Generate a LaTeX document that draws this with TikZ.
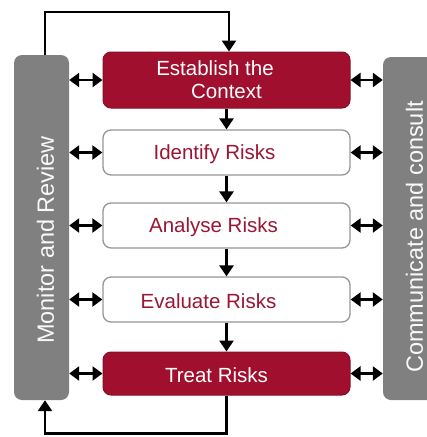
\documentclass[tikz,border=0pt]{standalone}
\usepackage{fontspec}
\setmainfont{Liberation Sans}
\usetikzlibrary{arrows.meta}

\definecolor{riskred}{RGB}{160,16,46}
\definecolor{risktext}{RGB}{155,22,52}
\definecolor{bargray}{RGB}{128,128,128}
\definecolor{boxline}{RGB}{150,150,150}

\begin{document}
\begin{tikzpicture}[x=1pt,y=-1pt,
  bar/.style={fill=bargray, rounded corners=8pt, inner sep=0pt},
  redbox/.style={fill=riskred, draw=riskred!85!black, line width=1pt, rounded corners=8pt,
                 minimum width=247pt, inner sep=0pt},
  whitebox/.style={fill=white, draw=boxline, line width=1.3pt, rounded corners=8pt,
                   minimum width=247pt, inner sep=0pt},
  boxtext/.style={font=\fontsize{20.5}{23}\selectfont, align=center, inner sep=0pt},
  bartext/.style={font=\fontsize{23.5}{27}\selectfont, text=white!95!gray, rotate=90, inner sep=0pt},
  flow/.style={line width=2.6pt, -{Triangle[length=11pt,width=14pt]}},
  both/.style={line width=2.4pt, {Triangle[length=10pt,width=14pt]}-{Triangle[length=10pt,width=14pt]}}]
\path[use as bounding box, clip] (0,0) rectangle (427,437);

% side bars
\node[bar, minimum width=55pt, minimum height=345pt] (mon) at (41.5,227.5) {};
\node[bar, minimum width=57pt, minimum height=343pt] (com) at (411.5,228.5) {};
\node[bartext] (montxt) at ([shift={(4,12.5)}]mon.center) {Monitor and Review};
\node[bartext] (comtxt) at (414.5,237) {Communicate and consult};

% process steps
\node[redbox, minimum height=56pt] (est) at (226.5,80) {};
\node[whitebox, minimum height=45pt] (iden) at (226.5,152.5) {};
\node[whitebox, minimum height=45pt] (anal) at (226.5,225.5) {};
\node[whitebox, minimum height=45pt] (eval) at (226.5,299.5) {};
\node[redbox, minimum height=43pt] (treat) at (226.5,373.5) {};

\node[boxtext, text=white] (esttxt) at ([shift={(-11.5,0)}]est.center) {Establish the\\\hspace*{23pt}Context};
\node[boxtext, text=risktext] (identxt) at ([shift={(-12,2)}]iden.center) {Identify Risks};
\node[boxtext, text=risktext] (analtxt) at ([shift={(-13,2)}]anal.center) {Analyse Risks};
\node[boxtext, text=risktext] (evaltxt) at ([shift={(-18,2)}]eval.center) {Evaluate Risks};
\node[boxtext, text=white] (treattxt) at ([shift={(-10,2)}]treat.center) {Treat Risks};

% flow down the steps
\draw[flow] (est) -- (iden);
\draw[flow] (iden) -- (anal);
\draw[flow] (anal) -- (eval);
\draw[flow] (eval) -- (treat);

% loops back round through monitoring
\draw[flow] ([xshift=3.5pt]mon.north) -- ++(0,-43) -| ([xshift=2.5pt]est.north);
\draw[flow] (treat.south) -- ++(0,38) -| ([xshift=3.5pt]mon.south);

% links to both bars
\foreach \step in {est,iden,anal,eval,treat}{
  \draw[both] (mon.east |- \step) -- (\step.west);
  \draw[both] (\step.east) -- (com.west |- \step);
}
\end{tikzpicture}
\end{document}
